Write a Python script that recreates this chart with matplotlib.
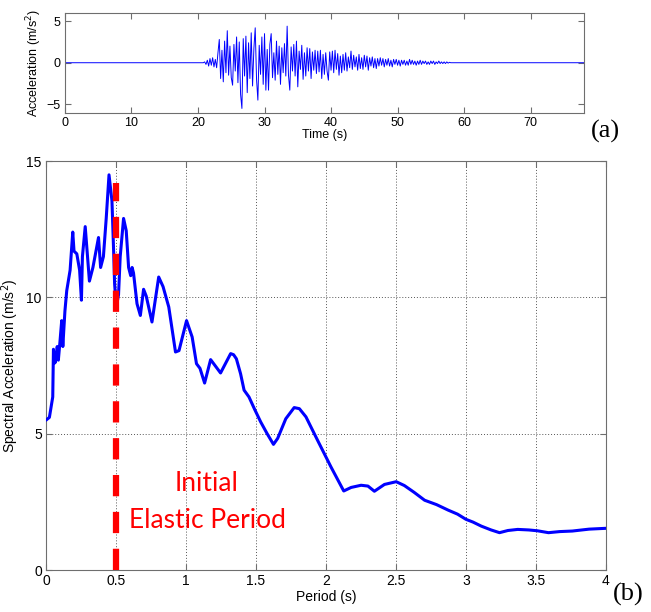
import numpy as np
import matplotlib
matplotlib.use('Agg')
import matplotlib.pyplot as plt

plt.rcParams['font.family'] = ['Liberation Sans', 'DejaVu Sans']

acc_t0 = 21.0
acc_dt = 0.2
acc = [0.1, -0.2, 0.3, -0.4, 0.5, -0.3, 0.6, -0.5, 0.4, -0.6,
       1.2, 2.8, -1.9, 1.5, -2.3, 2.6, -1.2, 3.85, -1.5, 2.0,
       -1.8, -2.7, 2.2, -1.0, 3.1, -2.4, 2.5, -3.8, -5.5, 2.9,
       -1.6, 3.2, -3.6, 2.4, -1.9, 3.6, -2.8, 1.7, 4.2, -2.0,
       -4.5, 2.1, -1.4, 3.1, -2.6, 3.5, -3.3, 1.6, -3.3, 2.2,
       3.5, -1.8, 1.2, -2.1, 2.6, -1.4, 2.0, -2.6, 1.8, -1.2,
       2.3, -1.6, 4.4, -1.5, -3.3, 1.9, -1.0, 2.2, -1.6, 2.6,
       -2.9, 1.4, -0.8, 2.1, -2.0, 1.2, -1.6, 1.8, -1.0, 1.7,
       -1.9, 1.3, -0.9, 1.5, -1.3, 1.4, -1.1, 1.5, -1.9, 1.0,
       -1.4, 1.2, -1.0, -2.1, 1.3, -0.9, 1.4, -1.2, 1.5, -0.8,
       1.1, -1.5, 0.8, -1.2, 1.0, -0.9, 1.2, -1.0, 0.7, -0.6,
       1.4, -0.8, 0.9, -0.5, 0.7, -0.9, 1.0, -0.7, 0.6, -0.8,
       0.9, -0.5, 0.8, -0.9, 0.6, -0.4, 0.7, -0.6, 0.5, -0.7,
       0.5, -0.4, 0.6, -0.3, 0.5, -0.5, 0.4, -0.3, 0.5, -0.4,
       0.3, -0.5, 0.4, -0.2, 0.4, -0.3, 0.3, -0.4, 0.3, -0.2,
       0.3, -0.3, 0.2, -0.3, 0.4, -0.2, 0.3, -0.2, 0.2, -0.3,
       0.2, -0.2, 0.3, -0.2, 0.2, -0.1, 0.2, -0.2, 0.1, -0.2,
       0.2, -0.1, 0.2, -0.2, 0.1, -0.1, 0.2, -0.1, 0.1, -0.1,
       0.1, -0.1, 0.1, -0.05, 0.05, 0.0]
t_end = 78.0

# (b) response spectrum
period = [0.0, 0.024, 0.048, 0.053, 0.064, 0.072, 0.08, 0.088, 0.1, 0.112,
          0.12, 0.135, 0.148, 0.172, 0.191, 0.2, 0.22, 0.24, 0.253, 0.26,
          0.28, 0.31, 0.335, 0.375, 0.39, 0.41, 0.43, 0.45, 0.471, 0.483,
          0.49, 0.502, 0.518, 0.53, 0.554, 0.573, 0.59, 0.605, 0.615, 0.625,
          0.65, 0.674, 0.697, 0.716, 0.757, 0.805, 0.836, 0.877, 0.925, 0.95,
          1.004, 1.044, 1.075, 1.10, 1.133, 1.176, 1.247, 1.319, 1.34, 1.36,
          1.39, 1.415, 1.45, 1.49, 1.534, 1.58, 1.625, 1.655, 1.713, 1.773,
          1.81, 1.857, 1.94, 2.036, 2.127, 2.18, 2.251, 2.30, 2.346, 2.418,
          2.502, 2.56, 2.63, 2.705, 2.79, 2.872, 2.94, 3.0, 3.05, 3.11,
          3.18, 3.24, 3.3, 3.37, 3.45, 3.51, 3.59, 3.67, 3.76, 3.88,
          4.0]
sa = [5.5, 5.6, 6.35, 8.1, 7.6, 7.8, 8.2, 7.7, 8.4, 9.15,
      8.2, 9.5, 10.25, 11.0, 12.4, 11.7, 11.6, 11.0, 9.9, 11.5,
      12.6, 10.6, 11.1, 12.2, 11.1, 11.5, 12.9, 14.5, 13.55, 11.7,
      10.5, 9.65, 10.1, 11.5, 12.9, 12.45, 11.1, 10.8, 11.1, 10.9,
      9.77, 9.34, 10.3, 10.05, 9.1, 10.75, 10.4, 9.65, 8.0, 8.05,
      9.15, 8.55, 7.57, 7.4, 6.86, 7.72, 7.23, 7.94, 7.9, 7.75,
      7.2, 6.6, 6.35, 5.9, 5.43, 5.0, 4.61, 4.83, 5.55, 5.96,
      5.92, 5.62, 4.76, 3.78, 2.9, 3.03, 3.11, 3.08, 2.89, 3.14,
      3.24, 3.1, 2.85, 2.56, 2.4, 2.2, 2.05, 1.86, 1.76, 1.61,
      1.47, 1.37, 1.45, 1.49, 1.47, 1.44, 1.37, 1.41, 1.43, 1.5,
      1.53]
elastic_period = 0.5
elastic_top = 14.2

fig = plt.figure(figsize=(6.51, 6.12), dpi=100)
frame = '#6e6e6e'

# top panel
ax1 = fig.add_axes([0.0998, 0.816, 0.797, 0.163])
t = np.concatenate([[0.0, acc_t0 - acc_dt], acc_t0 + acc_dt * np.arange(len(acc)), [t_end]])
a = np.concatenate([[0.0, 0.0], acc, [0.0]])
ax1.plot(t, a, color='#0000ff', lw=0.7)
ax1.set_xlim(0, t_end)
ax1.set_ylim(-6, 6)
ax1.set_xticks(np.arange(0, 71, 10))
ax1.set_yticks([-5, 0, 5])
ax1.set_xlabel('Time (s)', fontsize=9, labelpad=0)
ax1.set_ylabel('Acceleration (m/s$^2$)', fontsize=9, labelpad=2)

# bottom panel
ax2 = fig.add_axes([0.0707, 0.0686, 0.860, 0.668])
ax2.plot(period, sa, color='#0000ff', lw=2.2, zorder=3,
         solid_joinstyle='round', solid_capstyle='round')
ax2.plot([elastic_period, elastic_period], [0, elastic_top], color='#ff0000',
         lw=4.5, dashes=(3.4, 2.5), zorder=4)
ax2.set_xlim(0, 4)
ax2.set_ylim(0, 15)
ax2.set_xticks(np.arange(0, 4.01, 0.5))
ax2.set_xticklabels(['0', '0.5', '1', '1.5', '2', '2.5', '3', '3.5', '4'])
ax2.set_yticks([0, 5, 10, 15])
ax2.grid(True, color='#555555', linestyle=(0, (1, 2)), lw=0.7)
ax2.set_xlabel('Period (s)', fontsize=10, labelpad=1)
ax2.set_ylabel('Spectral Acceleration (m/s$^2$)', fontsize=10, labelpad=4)
ax2.text(1.15, 2.5, 'Initial\nElastic Period', color='#ff0000', fontsize=19,
         family=['Lato', 'DejaVu Sans'], ha='center', va='center', linespacing=1.6)

for ax, fs in ((ax1, 9), (ax2, 10)):
    for s in ax.spines.values():
        s.set_color(frame)
    ax.tick_params(direction='in', top=True, right=True, labelsize=fs,
                   color=frame, length=4, pad=3)

fig.text(0.930, 0.785, '(a)', fontsize=19, family=['Liberation Serif'], ha='center', va='center')
fig.text(0.965, 0.028, '(b)', fontsize=19, family=['Liberation Serif'], ha='center', va='center')

fig.savefig('out.png', dpi=100)
